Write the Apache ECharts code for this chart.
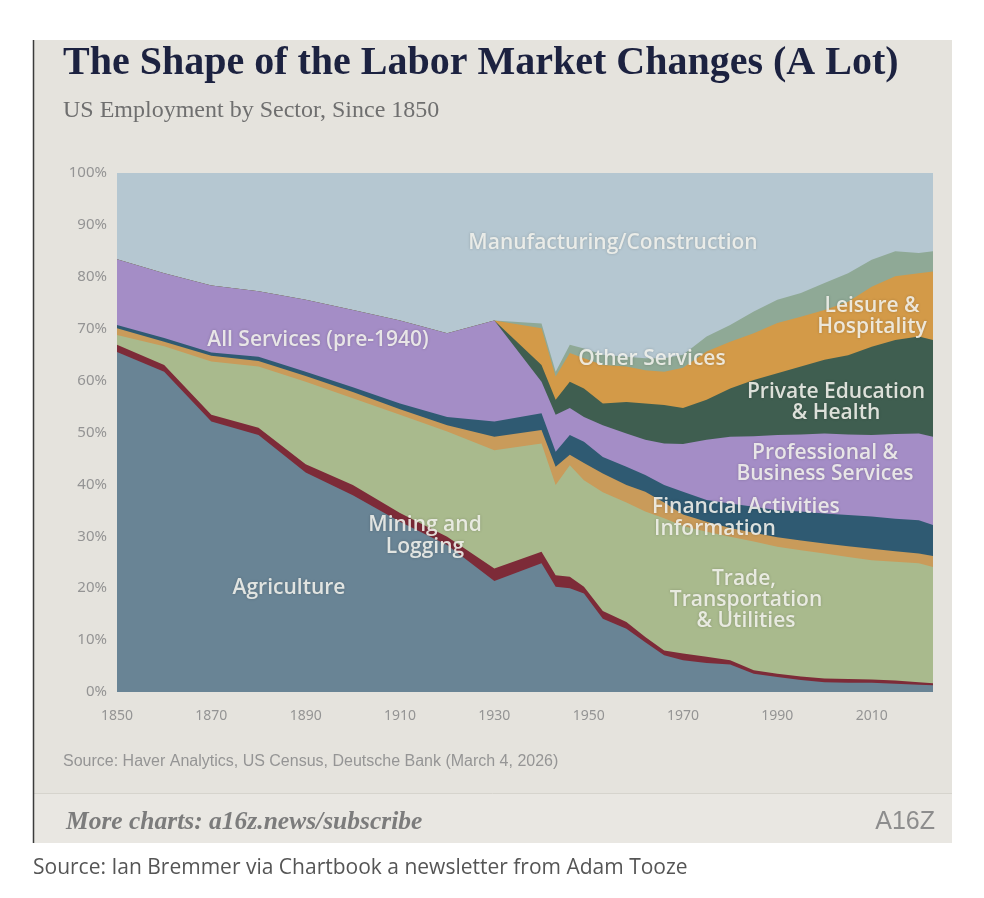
<!DOCTYPE html>
<html>
<head>
<meta charset="utf-8">
<title>The Shape of the Labor Market Changes (A Lot)</title>
<script src="https://cdn.jsdelivr.net/npm/echarts@6.0.0/dist/echarts.min.js"></script>
<style>
  html, body { margin: 0; padding: 0; background: #ffffff; }
  #chart { width: 984px; height: 898px; }
</style>
</head>
<body>
<div id="chart"></div>
<script>
// share of US employment by sector, in percent
const years = [1850, 1860, 1870, 1880, 1890, 1900, 1910, 1920, 1930, 1940, 1943, 1946, 1949, 1953, 1958, 1962, 1966, 1970, 1975, 1980, 1985, 1990, 1995, 2000, 2005, 2010, 2015, 2020, 2023];

const agriculture = [65.5, 61.7, 52.1, 49.5, 42.3, 37.9, 32.8, 28.3, 21.4, 24.8, 20.3, 20.0, 19.0, 14.1, 12.2, 9.6, 7.1, 6.1, 5.6, 5.3, 3.5, 2.9, 2.3, 1.9, 1.8, 1.8, 1.6, 1.4, 1.3];
const mining = [1.4, 1.3, 1.3, 1.4, 1.6, 2.0, 1.7, 1.6, 2.4, 2.2, 2.2, 2.2, 1.3, 1.5, 1.3, 1.0, 0.9, 1.3, 1.2, 0.8, 0.7, 0.6, 0.7, 0.7, 0.7, 0.6, 0.6, 0.5, 0.4];
const trade = [1.9, 3.6, 10.3, 11.8, 15.9, 16.7, 18.9, 20.3, 22.8, 20.9, 17.4, 21.5, 20.5, 22.9, 23.0, 24.2, 25.5, 24.6, 24.1, 23.8, 24.8, 24.5, 24.3, 24.1, 23.5, 23.0, 22.9, 22.9, 22.4];
const information = [1.3, 0.9, 1.1, 1.1, 1.1, 1.2, 1.1, 1.2, 2.6, 2.6, 3.5, 2.0, 3.3, 3.6, 3.4, 3.8, 3.0, 2.2, 1.9, 1.7, 1.7, 1.8, 1.9, 1.9, 2.1, 2.2, 2.0, 1.9, 2.1];
const financial = [0.6, 0.7, 0.6, 0.8, 0.8, 0.9, 1.1, 1.6, 2.9, 3.2, 2.9, 3.8, 4.1, 3.2, 3.5, 3.2, 3.4, 4.4, 4.2, 4.7, 5.0, 5.2, 5.6, 5.8, 6.0, 6.2, 6.3, 6.4, 6.0];
// "All Services" before 1940, Professional & Business Services after
const professional = [12.7, 12.5, 12.9, 12.6, 13.9, 14.9, 16.0, 16.1, 19.5, 6.1, 7.1, 5.2, 4.8, 6.1, 6.4, 6.8, 8.0, 9.2, 11.6, 12.9, 13.6, 14.5, 14.8, 15.4, 15.5, 15.7, 16.3, 16.7, 17.0];
const education = [0, 0, 0, 0, 0, 0, 0, 0, 0, 3.2, 2.9, 5.1, 5.5, 4.2, 6.1, 7.0, 7.4, 6.9, 7.7, 9.3, 10.8, 11.9, 13.1, 14.2, 15.3, 17.0, 18.1, 18.7, 18.6];
const leisure = [0, 0, 0, 0, 0, 0, 0, 0, 0, 7.1, 4.5, 5.5, 5.8, 7.4, 6.8, 6.4, 6.4, 7.8, 9.3, 9.0, 9.0, 9.7, 9.6, 9.6, 10.3, 11.6, 12.3, 12.2, 13.2];
const otherServices = [0, 0, 0, 0, 0, 0, 0, 0, 0, 0.9, 0.9, 1.6, 1.9, 2.0, 1.9, 2.3, 2.6, 2.5, 2.9, 3.2, 4.2, 4.5, 4.6, 5.2, 5.5, 5.2, 4.8, 3.9, 3.9];
const manufacturing = [16.6, 19.3, 21.7, 22.8, 24.4, 26.4, 28.4, 30.9, 28.4, 29.0, 38.3, 33.1, 33.8, 35.0, 35.4, 35.7, 35.7, 35.0, 31.5, 29.3, 26.7, 24.4, 23.1, 21.2, 19.3, 16.7, 15.1, 15.4, 15.1];

const xTickStart = 1850;
const xTickStep = 20;

// bottom to top
const sectors = [
    {name: 'Agriculture', values: agriculture, color: '#698495'},
    {name: 'Mining and Logging', values: mining, color: '#7d2b38'},
    {name: 'Trade, Transportation & Utilities', values: trade, color: '#a9ba8d'},
    {name: 'Information', values: information, color: '#c99b5a'},
    {name: 'Financial Activities', values: financial, color: '#2f5a72'},
    {name: 'Professional & Business Services', values: professional, color: '#a48dc6'},
    {name: 'Private Education & Health', values: education, color: '#3f5e50'},
    {name: 'Leisure & Hospitality', values: leisure, color: '#d39a48'},
    {name: 'Other Services', values: otherServices, color: '#8fa996'},
    {name: 'Manufacturing/Construction', values: manufacturing, color: '#b5c7d1'}
];

// running totals, so each band is an area down to 0 painted over the one above it
var running = years.map(function () { return 0; });
var layers = sectors.map(function (s) {
    running = running.map(function (r, i) { return r + s.values[i]; });
    return {name: s.name, color: s.color, tops: running.slice()};
});

var chartDom = document.getElementById('chart');
var myChart = echarts.init(chartDom);
var option;

const labelFont = '600 21px "Open Sans", "Noto Sans", sans-serif';
function areaLabel(text, x, y, align) {
    return {
        type: 'text',
        z: 50,
        style: {
            text: text,
            x: x,
            y: y,
            font: labelFont,
            fill: 'rgba(244,244,238,0.88)',
            align: align || 'center',
            verticalAlign: 'middle',
            textShadowColor: 'rgba(0,0,0,0.22)',
            textShadowBlur: 3
        }
    };
}

option = {
    animation: false,
    grid: {
        left: 117,
        right: 51,
        top: 173,
        bottom: 206,
        outerBoundsMode: 'none'
    },
    xAxis: {
        type: 'value',
        min: years[0],
        max: years[years.length - 1],
        interval: xTickStep,
        axisLine: {show: false},
        axisTick: {show: false},
        splitLine: {show: false},
        axisLabel: {
            margin: 17,
            color: '#949494',
            fontFamily: '"Noto Sans", sans-serif',
            fontSize: 14,
            showMaxLabel: false,
            formatter: function (v) {
                return (v - xTickStart) % xTickStep === 0 ? String(v) : '';
            }
        }
    },
    yAxis: {
        type: 'value',
        min: 0,
        max: 100,
        interval: 10,
        axisLine: {show: false},
        axisTick: {show: false},
        splitLine: {show: false},
        axisLabel: {
            margin: 10,
            color: '#949494',
            fontFamily: '"Noto Sans", sans-serif',
            fontSize: 15,
            formatter: '{value}%'
        }
    },
    series: layers.slice().reverse().map(function (l) {
        return {
            type: 'line',
            name: l.name,
            symbol: 'none',
            smooth: false,
            lineStyle: {width: 0},
            areaStyle: {color: l.color, opacity: 1},
            data: years.map(function (yr, i) { return [yr, l.tops[i]]; })
        };
    }),
    graphic: [
        // card behind the chart
        {type: 'rect', z: -10, shape: {x: 33, y: 40, width: 919, height: 803}, style: {fill: '#e5e3dd'}},
        {type: 'rect', z: -9, shape: {x: 33, y: 793, width: 919, height: 50}, style: {fill: '#e9e7e2'}},
        {type: 'line', z: -8, shape: {x1: 33, y1: 793.5, x2: 952, y2: 793.5}, style: {stroke: '#d6d4cd', lineWidth: 1}},
        {type: 'line', z: -8, shape: {x1: 33.5, y1: 40, x2: 33.5, y2: 843}, style: {stroke: '#3b3b3b', lineWidth: 1.5}},
        {
            type: 'text', z: 20,
            style: {
                text: 'The Shape of the Labor Market Changes (A Lot)',
                x: 63, y: 64, verticalAlign: 'middle',
                font: 'bold 40px "Liberation Serif", serif',
                fill: '#1c2240'
            }
        },
        {
            type: 'text', z: 20,
            style: {
                text: 'US Employment by Sector, Since 1850',
                x: 63, y: 111, verticalAlign: 'middle',
                font: '24px "Liberation Serif", serif',
                fill: '#6f6f6f'
            }
        },
        {
            type: 'text', z: 20,
            style: {
                text: 'Source: Haver Analytics, US Census, Deutsche Bank (March 4, 2026)',
                x: 63, y: 762, verticalAlign: 'middle',
                font: '16px "Liberation Sans", sans-serif',
                fill: '#959595'
            }
        },
        {
            type: 'text', z: 20,
            style: {
                text: 'More charts: a16z.news/subscribe',
                x: 66, y: 822, verticalAlign: 'middle',
                font: 'italic bold 25.5px "Liberation Serif", serif',
                fill: '#7c7c7c'
            }
        },
        {
            type: 'text', z: 20,
            style: {
                text: 'A16Z',
                x: 935, y: 822, align: 'right', verticalAlign: 'middle',
                font: '25px "Liberation Sans", sans-serif',
                fill: '#8d8d8d'
            }
        },
        {
            type: 'text', z: 20,
            style: {
                text: 'Source: Ian Bremmer via Chartbook a newsletter from Adam Tooze',
                x: 33, y: 868, verticalAlign: 'middle',
                font: '21px "Open Sans", sans-serif',
                fill: '#555555'
            }
        },
        areaLabel('Manufacturing/Construction', 613, 243),
        areaLabel('All Services (pre-1940)', 318, 340),
        areaLabel('Other Services', 652, 359),
        areaLabel('Leisure &', 872, 306),
        areaLabel('Hospitality', 872, 327),
        areaLabel('Private Education', 836, 392),
        areaLabel('& Health', 836, 413),
        areaLabel('Professional &', 825, 453),
        areaLabel('Business Services', 825, 474),
        areaLabel('Financial Activities', 652, 507, 'left'),
        areaLabel('Information', 654, 529, 'left'),
        areaLabel('Mining and', 425, 525),
        areaLabel('Logging', 425, 547),
        areaLabel('Agriculture', 289, 588),
        areaLabel('Trade,', 744, 579),
        areaLabel('Transportation', 746, 600),
        areaLabel('& Utilities', 746, 621)
    ]
};

option && myChart.setOption(option);
</script>
</body>
</html>
